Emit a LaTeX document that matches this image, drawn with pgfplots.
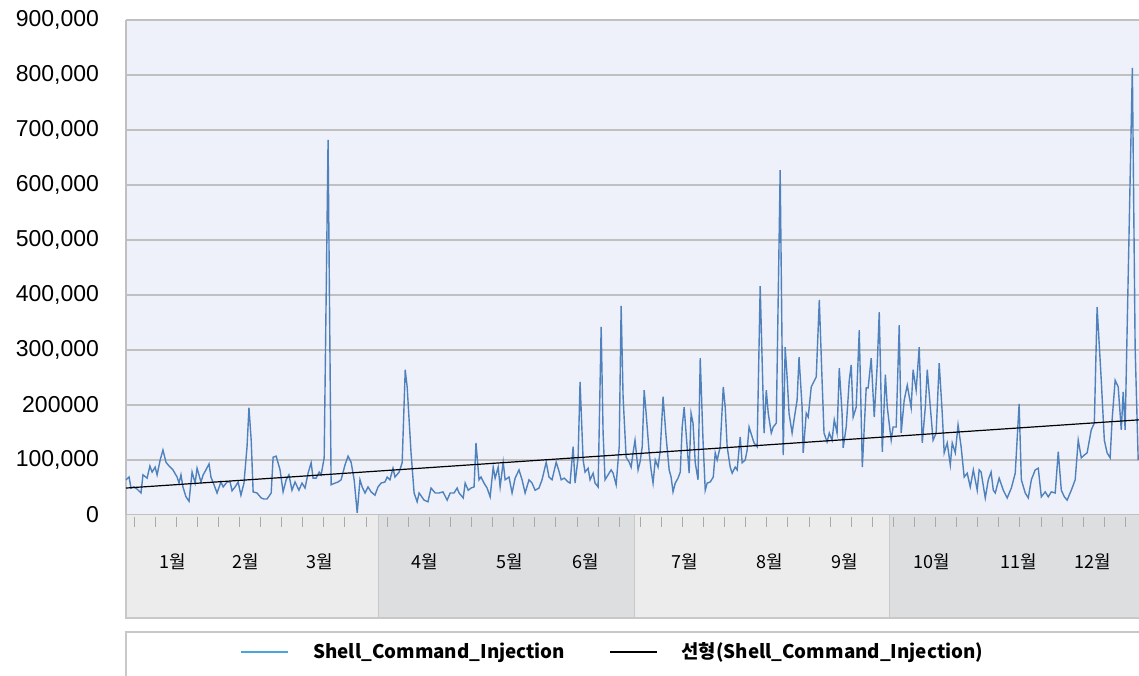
\documentclass[border=0pt]{standalone}
\usepackage{fontspec}
\setmainfont{Liberation Sans}
\newfontfamily\cjk{Noto Sans CJK KR}
\usepackage{pgfplots}
\usepackage{pgfplotstable}
\pgfplotsset{compat=1.18}

\definecolor{plotbg}{RGB}{238,241,250}
\definecolor{gridgray}{RGB}{192,192,192}
\definecolor{lineblue}{RGB}{79,129,189}
\definecolor{legblue}{RGB}{75,166,216}
\definecolor{bandlight}{RGB}{236,236,236}
\definecolor{banddark}{RGB}{221,222,224}
\definecolor{bandedge}{RGB}{200,200,200}
\definecolor{tickgray}{RGB}{170,170,170}

% daily counts, x = day of year
\pgfplotstableread{
day value
0 64000
1.1 69000
1.8 49000
2.9 51000
4.0 47000
5.4 40000
6.1 73000
7.6 67000
8.6 89000
9.4 78000
10.5 87000
11.2 73000
12.3 100000
13.3 118000
14.4 96000
15.5 89000
16.9 82000
18.4 69000
19.1 58000
19.8 73000
20.5 51000
21.6 33000
22.7 25000
23.8 78000
24.9 58000
25.6 85000
27.0 60000
27.8 73000
28.8 82000
29.9 93000
30.6 69000
31.7 55000
32.8 40000
34.2 60000
35.0 51000
36.4 60000
37.5 60000
38.2 44000
39.3 51000
40.4 60000
41.4 36000
42.5 58000
43.6 124000
44.3 195000
45.1 136000
45.8 42000
47.2 40000
48.7 31000
49.7 29000
50.8 29000
52.3 40000
53.0 105000
54.1 107000
55.5 82000
56.6 42000
57.7 64000
58.7 73000
59.8 45000
60.9 60000
62.3 45000
63.4 58000
64.5 49000
65.6 76000
66.7 95000
67.4 67000
68.5 67000
69.6 78000
70.3 73000
71.4 104000
72.8 682000
73.9 55000
75.3 58000
76.4 60000
77.5 64000
78.9 91000
80.0 107000
81.1 96000
82.2 64000
83.3 4000
84.3 64000
85.1 51000
86.1 40000
87.2 51000
88.3 42000
89.7 36000
90.8 51000
91.9 58000
93.3 60000
94.1 69000
95.1 64000
96.2 85000
96.9 69000
98.4 78000
99.5 95000
100.6 264000
101.3 233000
102.7 113000
103.8 40000
104.9 24000
105.6 40000
107.4 27000
108.8 24000
109.9 49000
111.4 40000
112.8 40000
114.2 42000
115.7 27000
116.8 40000
118.2 40000
119.3 49000
120.0 40000
121.5 31000
122.2 58000
123.3 45000
124.3 49000
125.4 51000
126.1 131000
127.2 64000
127.9 69000
129.0 58000
130.1 49000
131.2 33000
132.3 87000
133.0 67000
134.1 87000
134.8 51000
135.9 96000
136.6 64000
138.0 69000
139.1 40000
140.2 67000
141.6 82000
142.7 64000
143.8 40000
145.2 64000
146.3 58000
147.4 45000
148.8 49000
149.9 64000
151.4 96000
152.4 69000
153.5 64000
155.0 96000
156.1 78000
156.8 64000
157.9 67000
159.3 60000
160.0 58000
161.1 124000
161.8 58000
162.9 105000
163.6 242000
164.7 100000
165.4 78000
166.5 85000
167.2 64000
168.3 76000
169.0 58000
170.1 51000
171.2 342000
171.9 149000
172.6 64000
173.7 73000
174.8 82000
175.5 76000
176.6 55000
177.7 124000
178.4 380000
179.1 215000
180.2 105000
181.3 96000
182.0 87000
182.7 113000
183.4 136000
184.5 82000
185.2 96000
186.0 124000
186.7 227000
187.4 185000
188.5 113000
189.2 82000
189.9 58000
190.7 100000
191.7 87000
192.5 118000
193.5 215000
194.6 142000
195.7 82000
196.4 69000
197.1 42000
197.9 58000
198.9 67000
199.7 78000
200.4 160000
201.1 196000
201.8 149000
202.9 76000
203.6 185000
204.3 167000
205.1 95000
206.1 64000
206.9 285000
207.9 136000
208.7 45000
209.4 58000
210.5 60000
211.6 69000
212.3 113000
213.0 100000
214.1 124000
215.2 233000
215.9 196000
216.6 124000
217.7 87000
218.4 76000
219.5 87000
220.2 82000
221.3 142000
222.0 95000
223.1 100000
223.8 118000
224.5 160000
225.6 142000
226.3 131000
227.4 124000
228.5 416000
229.9 149000
230.7 227000
231.4 185000
232.5 149000
233.2 160000
234.3 167000
235.7 627000
236.8 109000
237.5 305000
238.2 251000
238.9 185000
240.0 149000
240.7 173000
241.8 209000
242.5 287000
243.6 196000
244.0 113000
245.1 185000
245.8 178000
246.9 233000
247.6 240000
248.7 251000
249.8 391000
250.8 245000
251.5 149000
252.6 133000
253.4 149000
254.4 136000
255.2 173000
256.2 149000
257.0 267000
258.0 185000
258.4 122000
259.5 160000
260.6 245000
261.3 273000
262.0 178000
263.1 196000
264.2 336000
265.3 87000
266.7 231000
267.4 231000
268.5 285000
269.6 178000
270.7 276000
271.4 369000
272.5 115000
273.6 255000
274.3 196000
275.7 136000
276.4 160000
277.5 160000
278.6 345000
279.3 149000
280.4 209000
281.5 236000
282.9 195000
283.6 264000
284.7 227000
285.8 305000
286.9 131000
288.0 196000
288.7 264000
289.8 196000
290.8 136000
291.9 149000
293.0 276000
294.1 185000
294.8 113000
295.9 131000
297.0 91000
297.7 131000
298.8 113000
299.8 164000
300.9 124000
302.0 69000
303.1 76000
304.2 51000
305.3 82000
306.7 45000
307.4 82000
308.1 78000
309.6 31000
310.7 64000
311.7 78000
312.5 45000
313.2 40000
314.6 67000
316.1 45000
317.5 31000
319.0 49000
320.4 76000
321.8 202000
322.6 64000
324.0 40000
325.1 31000
326.2 64000
327.6 82000
328.7 85000
329.8 33000
331.2 42000
332.3 33000
333.4 42000
334.8 40000
335.9 115000
337.0 45000
338.1 33000
339.1 27000
340.6 45000
342.0 64000
343.1 136000
344.2 104000
345.3 109000
346.3 113000
347.8 155000
348.9 167000
349.9 378000
351.4 245000
352.5 136000
353.5 113000
354.6 104000
355.3 173000
356.4 245000
357.5 233000
358.6 155000
359.3 224000
360.0 155000
362.6 813000
363.6 305000
364.7 100000
}\injection

\begin{document}
\begin{tikzpicture}
\begin{axis}[
    width=506.5pt, height=247.5pt, scale only axis,
    xmin=0, xmax=365, ymin=0, ymax=900000,
    clip=false,
    axis background/.style={fill=plotbg},
    axis x line=none,
    axis y line*=left,
    y axis line style={draw=gridgray, line width=0.75pt, -},
    ytick={0,100000,...,900000},
    scaled y ticks=false,
    yticklabels={0,{100,000},200000,{300,000},{400,000},{500,000},{600,000},{700,000},{800,000},{900,000}},
    ytick style={draw=none},
    yticklabel style={font=\fontsize{11.5}{13}\selectfont, anchor=east, xshift=-10pt},
    ymajorgrids,
    major grid style={draw=gridgray, line width=0.75pt},
    legend columns=2,
    legend style={at={(0.4817,-0.2768)}, anchor=center, draw=none, fill=none,
        font=\cjk\bfseries\fontsize{9.4}{11}\selectfont,
        /tikz/every odd column/.append style={column sep=10pt},
        /tikz/every even column/.append style={column sep=20pt}},
    legend image code/.code={\draw[#1] (0pt,0pt) -- (23.5pt,0pt);},
]
% category band under the plot
\fill[bandlight] (axis cs:0,0) rectangle (axis cs:90.8,-187273);
\fill[banddark] (axis cs:90.8,0) rectangle (axis cs:183.1,-187273);
\fill[bandlight] (axis cs:183.1,0) rectangle (axis cs:275,-187273);
\fill[banddark] (axis cs:275,0) rectangle (axis cs:365,-187273);
\draw[bandedge, line width=0.75pt] (axis cs:0,0) -- (axis cs:0,-187273) -- (axis cs:365,-187273);
\draw[bandedge] (axis cs:90.8,0) -- (axis cs:90.8,-187273);
\draw[bandedge] (axis cs:183.1,0) -- (axis cs:183.1,-187273);
\draw[bandedge] (axis cs:275,0) -- (axis cs:275,-187273);
\pgfplotsinvokeforeach{0,...,47}{
  \draw[tickgray, line width=0.5pt] (axis cs:{2.9+7.6*#1},-3636) -- (axis cs:{2.9+7.6*#1},-21818);
}
\begin{scope}[font=\cjk\fontsize{9}{11}\selectfont]
\node at (axis cs:16.9,-85455) {1월};
\node at (axis cs:43.2,-85455) {2월};
\node at (axis cs:69.9,-85455) {3월};
\node at (axis cs:107.8,-85455) {4월};
\node at (axis cs:138.4,-85455) {5월};
\node at (axis cs:165.8,-85455) {6월};
\node at (axis cs:201.5,-85455) {7월};
\node at (axis cs:232.1,-85455) {8월};
\node at (axis cs:259.1,-85455) {9월};
\node at (axis cs:290.5,-85455) {10월};
\node at (axis cs:321.5,-85455) {11월};
\node at (axis cs:348.5,-85455) {12월};
\end{scope}
% legend frame
\draw[bandedge, line width=0.75pt] (axis cs:0,-330000) -- (axis cs:0,-212727) -- (axis cs:380,-212727);
\coordinate (bbsw) at (axis cs:-45.41,-292727);
\coordinate (bbne) at (axis cs:365,936364);

\addplot[lineblue, line width=0.7pt,
    legend image code/.code={\draw[legblue, line width=0.75pt] (0pt,0pt) -- (23.5pt,0pt);}]
    table[x=day, y=value] {\injection};
\addlegendentry{Shell\_Command\_Injection}
\addplot[black, line width=0.6pt] coordinates {(0,49000) (365,173000)};
\addlegendentry{선형(Shell\_Command\_Injection)}
\end{axis}
\pgfresetboundingbox
\useasboundingbox (bbsw) rectangle (bbne);
\end{tikzpicture}
\end{document}
